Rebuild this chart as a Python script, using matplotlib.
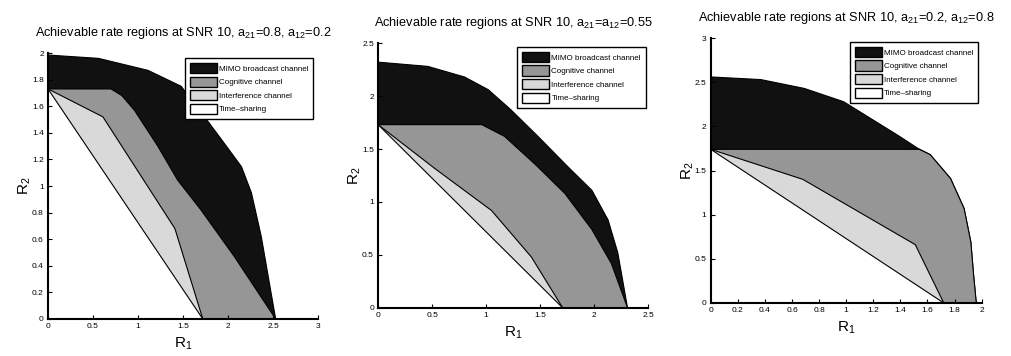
import matplotlib
matplotlib.use("Agg")
import matplotlib.pyplot as plt
from matplotlib.patches import Patch

plt.rcParams['font.family'] = ['Liberation Sans', 'DejaVu Sans']
plt.rcParams['mathtext.fontset'] = 'custom'
plt.rcParams['mathtext.rm'] = 'Liberation Sans'
plt.rcParams['mathtext.it'] = 'Liberation Sans'
plt.rcParams['mathtext.default'] = 'regular'

region_names = ["MIMO broadcast channel", "Cognitive channel",
                "Interference channel", "Time\u2013sharing"]
region_colors = ["#111111", "#969696", "#d9d9d9", "#ffffff"]

# Case 1: a21=0.8, a12=0.2
bc1_r1 = [0.0, 0.56, 1.11, 1.48, 1.74, 1.96, 2.15, 2.26, 2.37, 2.46, 2.53]
bc1_r2 = [1.985, 1.96, 1.87, 1.75, 1.52, 1.32, 1.145, 0.95, 0.62, 0.27, 0.0]
cog1_r1 = [0.0, 0.70, 0.82, 0.96, 1.22, 1.44, 1.70, 2.07, 2.53]
cog1_r2 = [1.73, 1.73, 1.68, 1.57, 1.30, 1.045, 0.82, 0.47, 0.0]
ic1_r1 = [0.0, 0.61, 1.41, 1.72]
ic1_r2 = [1.73, 1.52, 0.68, 0.0]
ts1_r1 = [0.0, 1.72]
ts1_r2 = [1.73, 0.0]

# Case 2: a21=a12=0.55
bc2_r1 = [0.0, 0.46, 0.80, 1.02, 1.23, 1.48, 1.76, 1.98, 2.13, 2.22, 2.31]
bc2_r2 = [2.32, 2.28, 2.18, 2.06, 1.87, 1.62, 1.33, 1.11, 0.83, 0.52, 0.0]
cog2_r1 = [0.0, 0.96, 1.17, 1.45, 1.73, 1.98, 2.16, 2.31]
cog2_r2 = [1.73, 1.73, 1.62, 1.36, 1.08, 0.74, 0.42, 0.0]
ic2_r1 = [0.0, 0.52, 1.05, 1.42, 1.71]
ic2_r2 = [1.73, 1.32, 0.92, 0.48, 0.0]
ts2_r1 = [0.0, 1.71]
ts2_r2 = [1.73, 0.0]

# Case 3: a21=0.2, a12=0.8 (cognitive and broadcast share the lower boundary)
bc3_r1 = [0.0, 0.37, 0.69, 0.98, 1.18, 1.38, 1.53, 1.62, 1.77, 1.87, 1.92, 1.94, 1.96]
bc3_r2 = [2.56, 2.53, 2.43, 2.28, 2.09, 1.90, 1.75, 1.68, 1.41, 1.07, 0.69, 0.32, 0.0]
cog3_r1 = [0.0, 1.54, 1.62, 1.77, 1.87, 1.92, 1.94, 1.96]
cog3_r2 = [1.74, 1.74, 1.68, 1.41, 1.07, 0.69, 0.32, 0.0]
ic3_r1 = [0.0, 0.68, 1.51, 1.72]
ic3_r2 = [1.74, 1.40, 0.66, 0.0]
ts3_r1 = [0.0, 1.72]
ts3_r2 = [1.74, 0.0]

titles = ["Achievable rate regions at SNR 10, a$_{21}$=0.8, a$_{12}$=0.2",
          "Achievable rate regions at SNR 10, a$_{21}$=a$_{12}$=0.55",
          "Achievable rate regions at SNR 10, a$_{21}$=0.2, a$_{12}$=0.8"]
x_ticks = [[0, 0.5, 1, 1.5, 2, 2.5, 3],
           [0, 0.5, 1, 1.5, 2, 2.5],
           [0, 0.2, 0.4, 0.6, 0.8, 1, 1.2, 1.4, 1.6, 1.8, 2]]
y_ticks = [[0, 0.2, 0.4, 0.6, 0.8, 1, 1.2, 1.4, 1.6, 1.8, 2],
           [0, 0.5, 1, 1.5, 2, 2.5],
           [0, 0.5, 1, 1.5, 2, 2.5, 3]]

cases = [
    [(bc1_r1, bc1_r2), (cog1_r1, cog1_r2), (ic1_r1, ic1_r2), (ts1_r1, ts1_r2)],
    [(bc2_r1, bc2_r2), (cog2_r1, cog2_r2), (ic2_r1, ic2_r2), (ts2_r1, ts2_r2)],
    [(bc3_r1, bc3_r2), (cog3_r1, cog3_r2), (ic3_r1, ic3_r2), (ts3_r1, ts3_r2)],
]

axes_rects = [[0.0475, 0.104, 0.267, 0.747],
              [0.374, 0.135, 0.267, 0.744],
              [0.703, 0.149, 0.268, 0.744]]
legend_anchor = [(0.507, 0.981), (0.515, 0.985), (0.513, 0.985)]

fig = plt.figure(figsize=(10.11, 3.56), dpi=100)

for k in range(3):
    ax = fig.add_axes(axes_rects[k])
    for (r1, r2), col in zip(cases[k], region_colors):
        xs = list(r1) + [0.0]
        ys = list(r2) + [0.0]
        ax.fill(xs, ys, facecolor=col, edgecolor="black", linewidth=0.8,
                joinstyle="round")
    ax.set_xlim(x_ticks[k][0], x_ticks[k][-1])
    ax.set_ylim(y_ticks[k][0], y_ticks[k][-1])
    ax.set_xticks(x_ticks[k])
    ax.set_yticks(y_ticks[k])
    ax.set_xticklabels(["%g" % v for v in x_ticks[k]])
    ax.set_yticklabels(["%g" % v for v in y_ticks[k]])
    ax.tick_params(direction="in", length=3, width=0.8, labelsize=6, pad=3)
    for s in ("top", "right"):
        ax.spines[s].set_visible(False)
    for s in ("left", "bottom"):
        ax.spines[s].set_linewidth(1.5)
    ax.set_xlabel("R$_1$", fontsize=11, labelpad=4)
    ax.set_ylabel("R$_2$", fontsize=11, labelpad=-1)
    ax.set_title(titles[k], fontsize=9.2, pad=12)
    handles = [Patch(facecolor=c, edgecolor="black", linewidth=1.0) for c in region_colors]
    leg = ax.legend(handles, region_names, loc="upper left",
                    bbox_to_anchor=legend_anchor[k], fontsize=5.8,
                    fancybox=False, framealpha=1, edgecolor="black",
                    handlelength=3.4, handleheight=1.6, labelspacing=0.4,
                    handletextpad=0.25, borderpad=0.6, borderaxespad=0)
    leg.get_frame().set_linewidth(1.0)

fig.savefig("out.png", dpi=100)
